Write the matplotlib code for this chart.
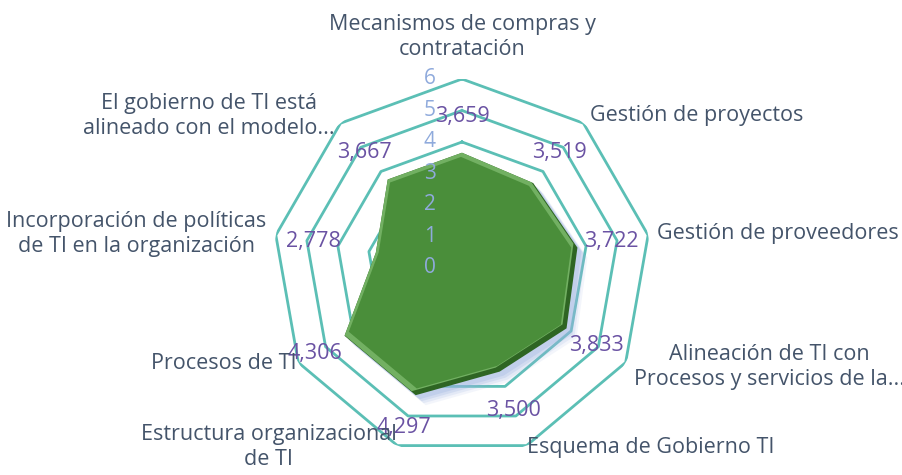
import numpy as np
import matplotlib.pyplot as plt
import matplotlib.transforms as mtransforms

categorias = ['Mecanismos de compras y\ncontratación',
              'Gestión de proyectos',
              'Gestión de proveedores',
              'Alineación de TI con\nProcesos y servicios de la...',
              'Esquema de Gobierno TI',
              'Estructura organizacional\nde TI',
              'Procesos de TI',
              'Incorporación de políticas\nde TI en la organización',
              'El gobierno de TI está\nalineado con el modelo...']
valores = [3.659, 3.519, 3.722, 3.833, 3.500, 4.297, 4.306, 2.778, 3.667]
etiquetas = ['3,659', '3,519', '3,722', '3,833', '3,500', '4,297', '4,306', '2,778', '3,667']
anillos = [1, 2, 3, 4, 5, 6]

plt.rcParams['font.family'] = ['Open Sans', 'DejaVu Sans']

fig = plt.figure(figsize=(9.03, 4.75), dpi=100)
ax = fig.add_axes([0.3023, 0.0379, 0.4186, 0.7958], projection='polar')
ax.set_theta_zero_location('N')
ax.set_theta_direction(-1)
ax.set_ylim(0, 6)
ax.grid(False)
ax.spines['polar'].set_visible(False)
ax.set_xticks([])
ax.set_yticks([])
ax.patch.set_alpha(0)

n = len(categorias)
ang = np.linspace(0, 2 * np.pi, n, endpoint=False)
ang_c = np.append(ang, ang[0])

# anillos poligonales
for r in anillos:
    ax.plot(ang_c, [r] * (n + 1), color='#5BBFB5', lw=2, zorder=1)

vals_c = np.append(valores, valores[0])

# sombra
for dx, dy, a in [(10, -10, 0.12), (8, -8, 0.18), (6, -6, 0.25), (4, -4, 0.3)]:
    tr = mtransforms.offset_copy(ax.transData, fig=fig, x=dx, y=dy, units='dots')
    ax.fill(ang_c, vals_c, color='#9DB4E0', alpha=a, lw=0, transform=tr, zorder=2)

# relleno verde con bisel
base = ax.fill(ang_c, vals_c, color='#2E6523', lw=0, zorder=3)[0]
tr_hl = mtransforms.offset_copy(ax.transData, fig=fig, x=-4, y=4, units='dots')
luz = ax.fill(ang_c, vals_c, color='#72B062', lw=0, zorder=4, transform=tr_hl)[0]
luz.set_clip_path(base)
tr_in = mtransforms.offset_copy(ax.transData, fig=fig, x=-1, y=1, units='dots')
ax.fill(ang_c, vals_c * 0.955, color='#4A8E3A', lw=0, zorder=5, transform=tr_in)

# etiquetas del eje radial
for r in range(0, 7):
    ax.text(0, 0, str(r), color='#8FAADC', fontsize=15, ha='center', va='center',
            transform=mtransforms.offset_copy(ax.transData, fig=fig, x=-32, y=r * 31.5, units='dots'),
            zorder=6)

# etiquetas de datos
for a, v, t in zip(ang, valores, etiquetas):
    ax.text(a, max(v + 1.1, 4.8), t, color='#6A52A3', fontsize=15.5,
            ha='center', va='center', zorder=7)

# categorias
for a, c in zip(ang, categorias):
    s, co = np.sin(a), np.cos(a)
    if abs(s) < 0.1:
        ha, va, rr = 'center', 'bottom', 6.6
    else:
        ha = 'left' if s > 0 else 'right'
        va = 'center'
        rr = 6.05 if co < -0.5 else 6.3
    ax.text(a, rr, c, color='#44546A', fontsize=15.5, ha=ha, va=va,
            multialignment='center', linespacing=1.25, zorder=7)

fig.savefig('out.png', dpi=100)
